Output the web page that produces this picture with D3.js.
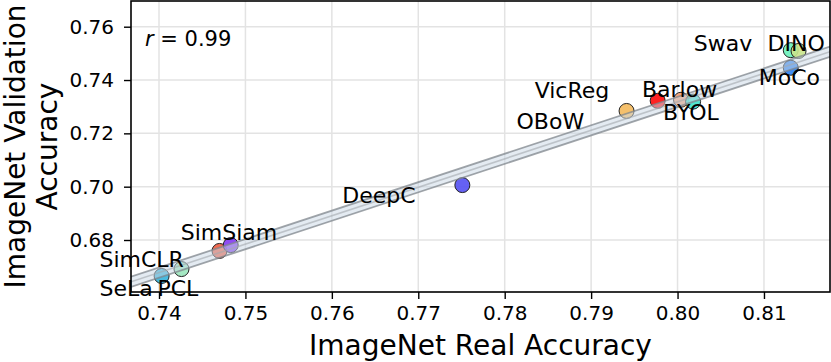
<!DOCTYPE html>
<html>
<head>
<meta charset="utf-8">
<script src="https://cdn.jsdelivr.net/npm/d3@7"></script>
<style>
  body { margin: 0; background: #fff; }
  svg text { font-family: "DejaVu Sans", sans-serif; fill: #000; }
</style>
</head>
<body>
<div id="chart"></div>
<script>
// Method names, accuracies and colours
const methods = ['SeLa', 'PCL', 'SimCLR', 'SimSiam', 'DeepC', 'OBoW', 'VicReg', 'Barlow', 'BYOL', 'Swav', 'DINO', 'MoCo'];
const realAcc = [0.7403, 0.7426, 0.7470, 0.7483, 0.7751, 0.7941, 0.7977, 0.8004, 0.8018, 0.8131, 0.8140, 0.8131];
const valAcc  = [0.6665, 0.6691, 0.6759, 0.6781, 0.7006, 0.7284, 0.7322, 0.7326, 0.7319, 0.7512, 0.7509, 0.7446];
const pointColors = ['#35b2db', '#9be6bd', '#ee5a3e', '#8338f2', '#5450f2', '#f4b95c', '#ff0a0a', '#f29e74', '#3ee3cc', '#6cf2bb', '#c9e68c', '#2a7ff2'];
// label offsets (px) from each point
const labelOffsets = [[-62, 20], [-24, 27], [-120, 16], [-50, -5], [-120, 18], [-110, 18], [-123, -3], [-39, -3], [-30, 18], [-97, 1], [-31, 0], [-32, 17]];

const xTicks = [0.74, 0.75, 0.76, 0.77, 0.78, 0.79, 0.80, 0.81];
const yTicks = [0.68, 0.70, 0.72, 0.74, 0.76];
// regression fit
const fitSlope = 1.067;
const fitIntercept = -0.1218;
const bandHalf = 0.0019;
const corrText = '0.99';

const width = 831, height = 362;
const margin = { left: 131, right: 1, top: 1, bottom: 70 };

const svg = d3.select('#chart').append('svg')
  .attr('width', width).attr('height', height);

const x = d3.scaleLinear().domain([0.73676, 0.81764]).range([margin.left, width - margin.right]);
const y = d3.scaleLinear().domain([0.6605, 0.76964]).range([height - margin.bottom, margin.top]);

svg.append('clipPath').attr('id', 'plotclip').append('rect')
  .attr('x', x.range()[0]).attr('y', y.range()[1])
  .attr('width', x.range()[1] - x.range()[0]).attr('height', y.range()[0] - y.range()[1]);

// grid
const grid = svg.append('g');
grid.selectAll('.gx').data(xTicks).join('line')
  .attr('x1', d => x(d)).attr('x2', d => x(d))
  .attr('y1', y.range()[0]).attr('y2', y.range()[1])
  .attr('stroke', '#e3e3e3').attr('stroke-width', 1.5);
grid.selectAll('.gy').data(yTicks).join('line')
  .attr('y1', d => y(d)).attr('y2', d => y(d))
  .attr('x1', x.range()[0]).attr('x2', x.range()[1])
  .attr('stroke', '#e3e3e3').attr('stroke-width', 1.5);

const plot = svg.append('g').attr('clip-path', 'url(#plotclip)');

// points
const data = methods.map((m, i) => ({ name: m, rx: realAcc[i], vy: valAcc[i], color: pointColors[i], off: labelOffsets[i] }));

plot.selectAll('circle').data(data).join('circle')
  .attr('cx', d => x(d.rx)).attr('cy', d => y(d.vy)).attr('r', 7.5)
  .attr('fill', d => d.color).attr('fill-opacity', 0.9)
  .attr('stroke', '#222').attr('stroke-width', 1);

// regression band on top
const [x0, x1] = x.domain();
const fit = v => fitIntercept + fitSlope * v;
const band = d3.area().x(d => x(d)).y0(d => y(fit(d) - bandHalf)).y1(d => y(fit(d) + bandHalf));
plot.append('path').datum([x0, x1]).attr('d', band)
  .attr('fill', '#c9d7e6').attr('fill-opacity', 0.5);
const edge = off => d3.line().x(d => x(d)).y(d => y(fit(d) + off));
[bandHalf, -bandHalf].forEach(o => {
  plot.append('path').datum([x0, x1]).attr('d', edge(o))
    .attr('fill', 'none').attr('stroke', '#7f868c').attr('stroke-opacity', 0.75).attr('stroke-width', 1.8);
});
plot.append('path').datum([x0, x1]).attr('d', edge(0))
  .attr('fill', 'none').attr('stroke', '#a3a9ae').attr('stroke-opacity', 0.6).attr('stroke-width', 1.6);

// labels
svg.append('g').selectAll('text').data(data).join('text')
  .attr('x', d => x(d.rx) + d.off[0]).attr('y', d => y(d.vy) + d.off[1])
  .attr('font-size', 22).text(d => d.name);

// correlation annotation
const ann = svg.append('text').attr('x', 145).attr('y', 46).attr('font-size', 21);
ann.append('tspan').attr('font-style', 'italic').text('r');
ann.append('tspan').text(' = ' + corrText);

// frame
svg.append('rect')
  .attr('x', x.range()[0]).attr('y', y.range()[1])
  .attr('width', x.range()[1] - x.range()[0]).attr('height', y.range()[0] - y.range()[1])
  .attr('fill', 'none').attr('stroke', '#000').attr('stroke-width', 1.6);

// axes
const xAxis = svg.append('g').attr('transform', `translate(0,${y.range()[0]})`)
  .call(d3.axisBottom(x).tickValues(xTicks).tickFormat(d3.format('.2f')).tickSizeOuter(0).tickSize(7).tickPadding(7));
const yAxis = svg.append('g').attr('transform', `translate(${x.range()[0]},0)`)
  .call(d3.axisLeft(y).tickValues(yTicks).tickFormat(d3.format('.2f')).tickSizeOuter(0).tickSize(7).tickPadding(10));
[xAxis, yAxis].forEach(a => {
  a.select('.domain').remove();
  a.selectAll('.tick line').attr('stroke', '#000').attr('stroke-width', 1.4);
  a.selectAll('.tick text').attr('font-size', 20).attr('font-family', '"DejaVu Sans", sans-serif').attr('fill', '#000');
});

// axis titles
svg.append('text').attr('x', (x.range()[0] + x.range()[1]) / 2).attr('y', 355)
  .attr('text-anchor', 'middle').attr('font-size', 28).text('ImageNet Real Accuracy');
const yt = svg.append('text').attr('transform', `translate(25,${(y.range()[0] + y.range()[1]) / 2}) rotate(-90)`)
  .attr('text-anchor', 'middle').attr('font-size', 28);
yt.append('tspan').attr('x', 0).attr('y', 0).text('ImageNet Validation');
yt.append('tspan').attr('x', 0).attr('y', 32).text('Accuracy');
</script>
</body>
</html>
